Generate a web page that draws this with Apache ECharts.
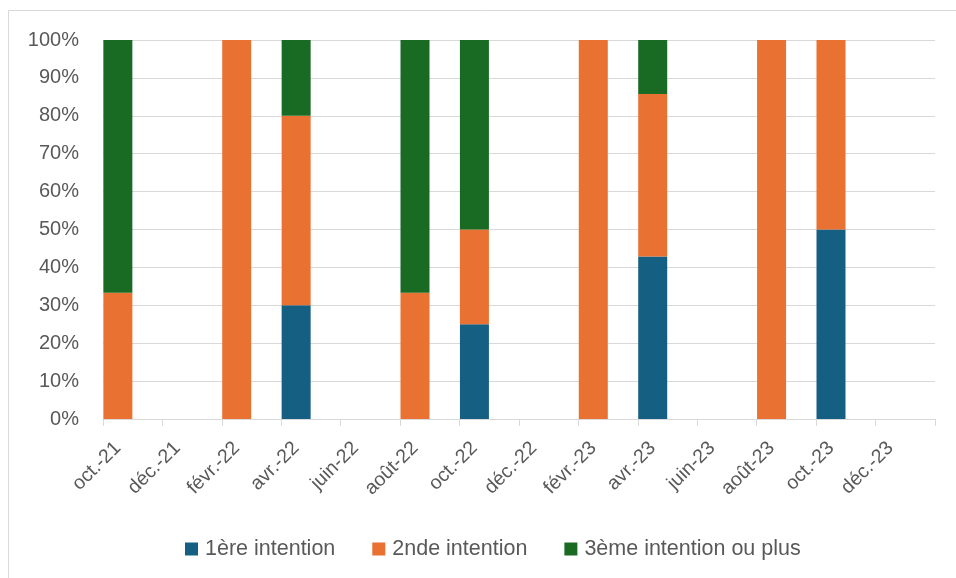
<!DOCTYPE html>
<html>
<head>
<meta charset="utf-8">
<script src="https://cdn.jsdelivr.net/npm/echarts@6/dist/echarts.min.js"></script>
<style>
  html, body { margin: 0; padding: 0; background: #fff; }
  #main { width: 956px; height: 578px; }
</style>
</head>
<body>
<div id="main"></div>
<script>
// mois affichés sur l'axe (un repère tous les 2 mois)
var tickLabels = ['oct.-21', 'déc.-21', 'févr.-22', 'avr.-22', 'juin-22', 'août-22', 'oct.-22',
                  'déc.-22', 'févr.-23', 'avr.-23', 'juin-23', 'août-23', 'oct.-23', 'déc.-23'];
// dates des relevés (index du mois depuis oct.-21)
var barMonths = [0, 4, 6, 10, 12, 16, 18, 22, 24];
var first  = [0, 0, 30, 0, 25, 0, 42.86, 0, 50];
var second = [33.33, 100, 50, 33.33, 25, 100, 42.86, 100, 50];
var third  = [66.67, 0, 20, 66.67, 50, 0, 14.29, 0, 0];
var seriesNames = ['1ère intention', '2nde intention', '3ème intention ou plus'];
var colors = ['#156082', '#E97132', '#196B24'];

// axe mensuel : oct.-21 -> janv.-24 (28 mois)
var nbMonths = 28;
var months = [];
for (var i = 0; i < nbMonths; i++) {
  months.push(i % 2 === 0 && tickLabels[i / 2] ? tickLabels[i / 2] : '');
}

function toMonthly(arr) {
  var out = [];
  for (var i = 0; i < nbMonths; i++) out.push(null);
  barMonths.forEach(function (m, k) { out[m] = arr[k] || null; });
  return out;
}

var myChart = echarts.init(document.getElementById('main'));
var txt = '#595959';
var grey = '#d9d9d9';
var font = 'Liberation Sans, Arial, sans-serif';

var option = {
  animation: false,
  color: colors,
  textStyle: { fontFamily: font },
  graphic: [{
    type: 'rect',
    shape: { x: 8.5, y: 10.5, width: 960, height: 580 },
    style: { fill: 'none', stroke: grey, lineWidth: 1 },
    silent: true
  }],
  grid: { left: 103, right: 21, top: 40, bottom: 159 },
  legend: {
    top: 533,
    left: 180,
    itemWidth: 13,
    itemHeight: 13,
    itemGap: 37,
    icon: 'rect',
    textStyle: { color: txt, fontSize: 21.5, fontFamily: font, lineHeight: 22, padding: [0, 0, 0, 2] },
    data: seriesNames
  },
  xAxis: [{
    type: 'category',
    data: months,
    boundaryGap: true,
    axisLine: { show: false },
    axisTick: { show: false },
    axisLabel: { interval: 1, rotate: 45, color: txt, fontSize: 19.5, margin: 26 },
    splitLine: { show: false }
  }, {
    // axe de repères : un trait tous les 2 mois
    type: 'value',
    min: 0,
    max: nbMonths,
    interval: 2,
    position: 'bottom',
    axisLine: { show: true, lineStyle: { color: grey, width: 1 } },
    axisTick: { show: true, length: 7, lineStyle: { color: grey } },
    axisLabel: { show: false },
    splitLine: { show: false }
  }],
  yAxis: {
    type: 'value',
    min: 0,
    max: 100,
    interval: 10,
    axisLine: { show: false },
    axisTick: { show: false },
    axisLabel: { color: txt, fontSize: 20, margin: 24, formatter: '{value}%' },
    splitLine: { lineStyle: { color: grey, width: 1 } }
  },
  series: [first, second, third].map(function (arr, k) {
    return {
      name: seriesNames[k],
      type: 'bar',
      stack: 'total',
      xAxisIndex: 0,
      barCategoryGap: '0%',
      barWidth: 29,
      data: toMonthly(arr),
      itemStyle: { color: colors[k] }
    };
  })
};

myChart.setOption(option);
</script>
</body>
</html>
